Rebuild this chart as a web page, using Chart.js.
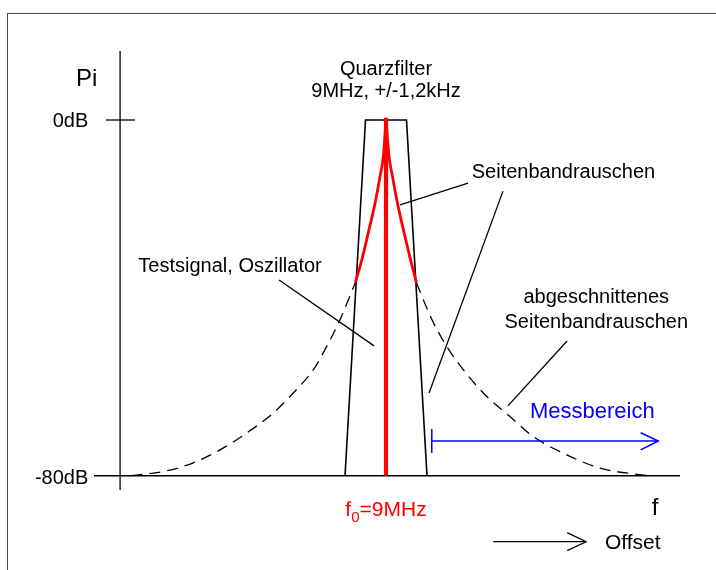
<!DOCTYPE html>
<html><head><meta charset="utf-8">
<script src="https://cdn.jsdelivr.net/npm/chart.js@4.4.1/dist/chart.umd.min.js"></script>
<style>
html,body{margin:0;padding:0;background:#fff;overflow:hidden;width:716px;height:570px;}
#frame{position:absolute;left:7px;top:13px;width:760px;height:620px;border:1px solid #4a4a4a;box-sizing:border-box;}
#wrap{position:absolute;left:0;top:0;width:716px;height:570px;}
</style></head><body>
<div id="frame"></div>
<div id="wrap"><canvas id="c" width="716" height="570"></canvas></div>
<script>
// x: frequency offset from f0 = 9 MHz in kHz, y: level in dB
const filterX = [-2.4, -1.2, 1.2, 2.4];
const filterY = [-80, 0, 0, -80];

const carrierX = [0, 0];
const carrierY = [-80, 0.5];

const noiseLeftX = [-1.80, -1.42, -1.04, -0.64, -0.35, -0.16, 0];
const noiseLeftY = [-36.6, -31.5, -25.4, -18.7, -12.7, -8.3, 0];
const noiseRightX = [0, 0.18, 0.38, 0.67, 1.06, 1.44, 1.78];
const noiseRightY = [0, -8.3, -12.7, -18.7, -25.4, -31.5, -36.6];

const cutLeftX = [-14.9, -12.84, -11.28, -9.72, -8.16, -6.60, -5.43, -4.26, -3.47, -2.69, -1.80];
const cutLeftY = [-80, -78.9, -77.1, -74.2, -70.4, -65.9, -61.4, -56.2, -50.9, -44.9, -36.6];
const cutRightX = [1.78, 2.70, 3.55, 4.53, 5.90, 7.26, 8.62, 10.58, 12.53, 15.3];
const cutRightY = [-36.6, -45.0, -50.9, -56.2, -62.2, -66.7, -71.2, -75.3, -78.3, -80];

// axes
const yAxisX = [-15.57, -15.57];
const yAxisY = [15.5, -83.2];
const xAxisX = [-17.10, 17.21];
const xAxisY = [-80, -80];
const tick0X = [-16.39, -14.70];
const tick0Y = [0, 0];

// leader lines
const leadTestX = [-6.26, -0.70];
const leadTestY = [-36.0, -50.8];
const leadSb1X = [0.82, 4.80];
const leadSb1Y = [-19.1, -14.2];
const leadSb2X = [6.85, 2.52];
const leadSb2Y = [-16.0, -61.4];
const leadCutX = [10.60, 7.14];
const leadCutY = [-49.7, -64.3];

// Messbereich arrow
const measShaftX = [2.68, 15.94];
const measShaftY = [-72.2, -72.2];
const measBarX = [2.68, 2.68];
const measBarY = [-69.5, -74.9];
const measHeadX = [14.91, 15.94, 14.91];
const measHeadY = [-70.35, -72.2, -74.2];

// Offset arrow
const offShaftX = [6.28, 11.71];
const offShaftY = [-94.85, -94.85];
const offHeadX = [10.61, 11.71, 10.61];
const offHeadY = [-92.82, -94.85, -96.87];

// text annotations (anchored in data coordinates)
const labelTexts = ['Pi', 'Quarzfilter', '9MHz, +/-1,2kHz', '0dB', '-80dB', 'Seitenbandrauschen',
  'Testsignal, Oszillator', 'abgeschnittenes', 'Seitenbandrauschen', 'Messbereich', 'f', 'Offset'];
const labelX = [-18.15, 0, 0, -17.43, -17.43, 5.02, -14.50, 12.31, 12.31, 8.43, 15.56, 12.82];
const labelY = [7.65, 10.12, 5.24, -1.51, -81.97, -13.11, -34.12, -41.2, -46.7, -66.96, -88.84, -96.56];
const labelAlign = ['left', 'center', 'center', 'right', 'right', 'left', 'left', 'center', 'center', 'left', 'left', 'left'];
const labelSize = [24, 20, 20, 20, 20, 20, 20, 20, 20, 22, 24, 21];
const labelColor = ['#000', '#000', '#000', '#000', '#000', '#000', '#000', '#000', '#000', '#0000ff', '#000', '#000'];
const f0Label = {x: 0, y: -89.07};

const pts = (xs, ys) => xs.map((x, i) => ({x: x, y: ys[i]}));
const FONT = '"Liberation Sans", Arial, sans-serif';

function line(data, color, width, order, extra) {
  return Object.assign({
    data: data, borderColor: color, borderWidth: width, pointRadius: 0,
    fill: false, tension: 0, order: order, borderCapStyle: 'butt'
  }, extra || {});
}

const datasets = [
  line(pts(cutLeftX, cutLeftY), '#000', 1.3, 9, {borderDash: [11, 7], cubicInterpolationMode: 'monotone'}),
  line(pts(cutRightX, cutRightY), '#000', 1.3, 9, {borderDash: [11, 7], cubicInterpolationMode: 'monotone'}),
  line(pts(xAxisX, xAxisY), '#000', 1.5, 8),
  line(pts(yAxisX, yAxisY), '#000', 1.3, 8),
  line(pts(tick0X, tick0Y), '#000', 1.3, 8),
  line(pts(filterX, filterY), '#000', 1.6, 6, {borderJoinStyle: 'miter'}),
  line(pts(noiseLeftX, noiseLeftY), '#ff0000', 2.8, 4, {cubicInterpolationMode: 'monotone'}),
  line(pts(noiseRightX, noiseRightY), '#ff0000', 2.8, 4, {cubicInterpolationMode: 'monotone'}),
  line(pts(carrierX, carrierY), '#ff0000', 4.2, 3),
  line(pts(leadTestX, leadTestY), '#000', 1.3, 2),
  line(pts(leadSb1X, leadSb1Y), '#000', 1.3, 2),
  line(pts(leadSb2X, leadSb2Y), '#000', 1.3, 2),
  line(pts(leadCutX, leadCutY), '#000', 1.3, 2),
  line(pts(measShaftX, measShaftY), '#0000ff', 1.5, 1),
  line(pts(measBarX, measBarY), '#0000ff', 1.5, 1),
  line(pts(measHeadX, measHeadY), '#0000ff', 1.5, 1),
  line(pts(offShaftX, offShaftY), '#000', 1.3, 1),
  line(pts(offHeadX, offHeadY), '#000', 1.3, 1)
];

const textPlugin = {
  id: 'texts',
  afterDatasetsDraw(chart) {
    const ctx = chart.ctx, sx = chart.scales.x, sy = chart.scales.y;
    ctx.save();
    ctx.textBaseline = 'alphabetic';
    labelTexts.forEach((t, i) => {
      ctx.font = labelSize[i] + 'px ' + FONT;
      ctx.fillStyle = labelColor[i];
      ctx.textAlign = labelAlign[i];
      ctx.fillText(t, sx.getPixelForValue(labelX[i]), sy.getPixelForValue(labelY[i]));
    });
    // f0=9MHz with subscript
    const big = '21px ' + FONT, small = '15px ' + FONT;
    ctx.fillStyle = '#ff0000';
    ctx.textAlign = 'left';
    ctx.font = big; const w1 = ctx.measureText('f').width; const w3 = ctx.measureText('=9MHz').width;
    ctx.font = small; const w2 = ctx.measureText('0').width;
    const total = w1 + w2 + w3;
    let px = sx.getPixelForValue(f0Label.x) - total / 2;
    const py = sy.getPixelForValue(f0Label.y);
    ctx.font = big; ctx.fillText('f', px, py); px += w1;
    ctx.font = small; ctx.fillText('0', px, py + 5.7); px += w2;
    ctx.font = big; ctx.fillText('=9MHz', px, py);
    ctx.restore();
  }
};

new Chart(document.getElementById('c'), {
  type: 'line',
  data: {datasets: datasets},
  options: {
    responsive: false,
    animation: false,
    devicePixelRatio: 1,
    layout: {padding: 0},
    plugins: {legend: {display: false}, tooltip: {enabled: false}},
    scales: {
      x: {type: 'linear', min: -22.60, max: 19.32, display: false},
      y: {type: 'linear', min: -101.21, max: 26.99, display: false}
    }
  },
  plugins: [textPlugin]
});
</script>
</body></html>
